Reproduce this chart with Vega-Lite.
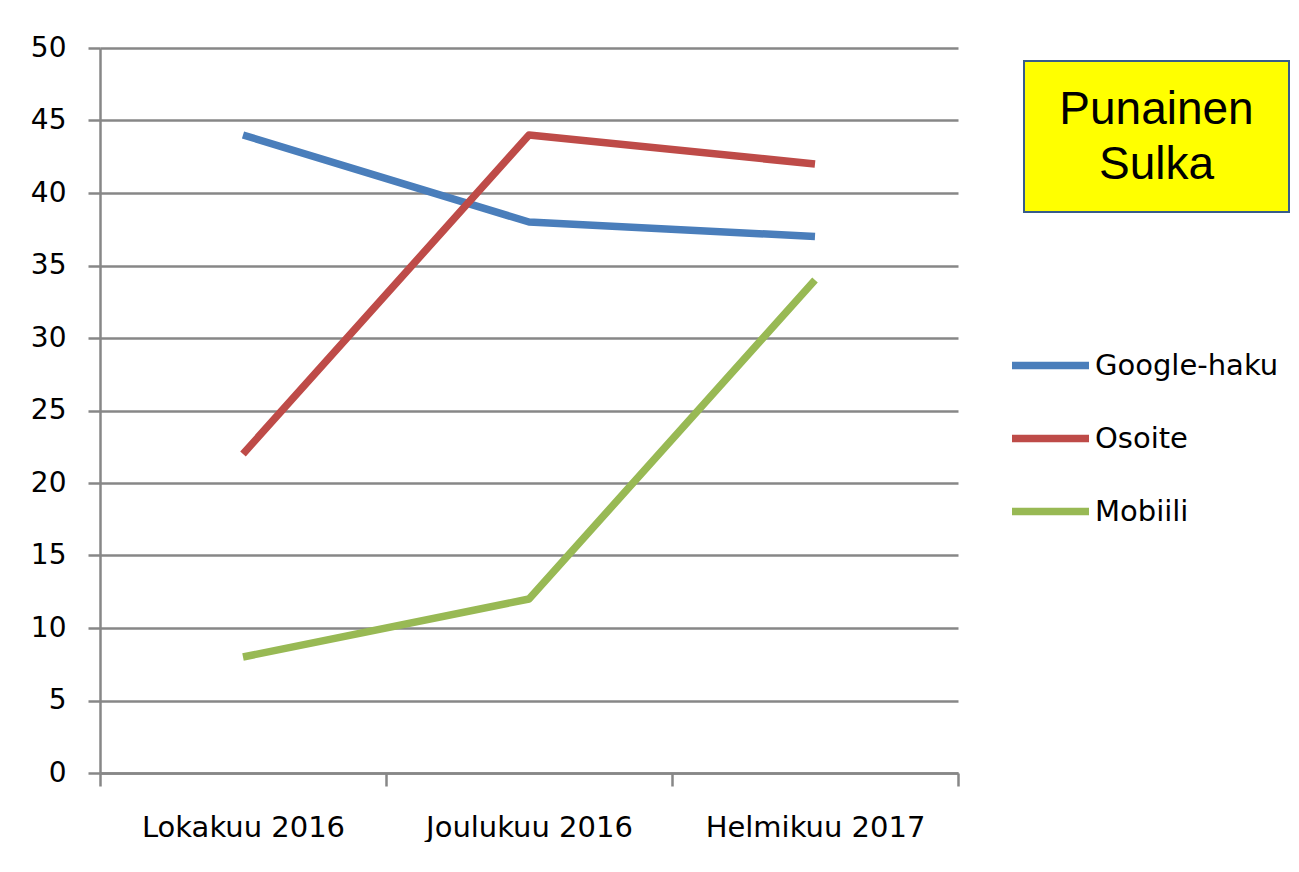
{
  "$schema": "https://vega.github.io/schema/vega-lite/v6.json",
  "padding": {"left": 30, "top": 34, "right": 0, "bottom": 0},
  "background": "white",
  "config": {"view": {"stroke": null}, "font": "DejaVu Sans"},
  "hconcat": [
    {
      "width": 858,
      "height": 725,
      "data": {"values": [
        {"month": "Lokakuu 2016", "series": "Google-haku", "value": 44},
        {"month": "Joulukuu 2016", "series": "Google-haku", "value": 38},
        {"month": "Helmikuu 2017", "series": "Google-haku", "value": 37},
        {"month": "Lokakuu 2016", "series": "Osoite", "value": 22},
        {"month": "Joulukuu 2016", "series": "Osoite", "value": 44},
        {"month": "Helmikuu 2017", "series": "Osoite", "value": 42},
        {"month": "Lokakuu 2016", "series": "Mobiili", "value": 8},
        {"month": "Joulukuu 2016", "series": "Mobiili", "value": 12},
        {"month": "Helmikuu 2017", "series": "Mobiili", "value": 34}
      ]},
      "mark": {"type": "line", "strokeWidth": 7.5, "strokeJoin": "round"},
      "encoding": {
        "x": {
          "field": "month", "type": "ordinal",
          "sort": ["Lokakuu 2016", "Joulukuu 2016", "Helmikuu 2017"],
          "scale": {"type": "band", "paddingInner": 0, "paddingOuter": 0},
          "axis": {
            "title": null, "labelAngle": 0, "tickBand": "extent", "tickSize": 13,
            "tickColor": "#878787", "tickWidth": 2.5, "domainColor": "#878787", "domainWidth": 2.5,
            "labelPadding": 27, "labelFontSize": 29, "labelColor": "#000000", "labelFont": "DejaVu Sans",
            "labelLimit": 0, "grid": false
          }
        },
        "y": {
          "field": "value", "type": "quantitative",
          "scale": {"domain": [0, 50], "nice": false},
          "axis": {
            "title": null, "values": [0, 5, 10, 15, 20, 25, 30, 35, 40, 45, 50],
            "grid": true, "gridColor": "#878787", "gridWidth": 2.5,
            "tickSize": 12, "tickColor": "#878787", "tickWidth": 2.5,
            "domainColor": "#878787", "domainWidth": 2.5,
            "labelPadding": 22, "labelFontSize": 28, "labelColor": "#000000", "labelFont": "DejaVu Sans"
          }
        },
        "color": {
          "field": "series", "type": "nominal",
          "scale": {"domain": ["Google-haku", "Osoite", "Mobiili"], "range": ["#4A7EBB", "#BE4B48", "#98B954"]},
          "legend": {
            "title": null, "orient": "none", "legendX": 908, "legendY": 281,
            "symbolType": "stroke", "symbolSize": 5929, "symbolStrokeWidth": 7.5,
            "labelFontSize": 29, "labelFont": "DejaVu Sans", "labelColor": "#000000",
            "labelOffset": 2, "rowPadding": 0, "clipHeight": 73, "labelLimit": 0
          }
        }
      }
    },
    {
      "vconcat": [
        {
          "width": 265, "height": 1,
          "data": {"values": [{}]},
          "mark": {"type": "point", "opacity": 0},
          "view": {"stroke": null}
        },
        {
          "width": 265, "height": 151,
          "data": {"values": [{"t": "Punainen\nSulka"}]},
          "view": {"fill": "#FFFF00", "stroke": "#385D8A", "strokeWidth": 2},
          "mark": {"type": "text", "lineBreak": "\n", "font": "Liberation Sans", "fontSize": 46, "lineHeight": 55, "baseline": "middle", "align": "center", "dy": -27, "color": "#000000"},
          "encoding": {"text": {"field": "t"}}
        }
      ],
      "spacing": 12,
      "bounds": "flush"
    }
  ],
  "spacing": 66,
  "bounds": "flush",
  "resolve": {"scale": {"color": "independent"}}
}
